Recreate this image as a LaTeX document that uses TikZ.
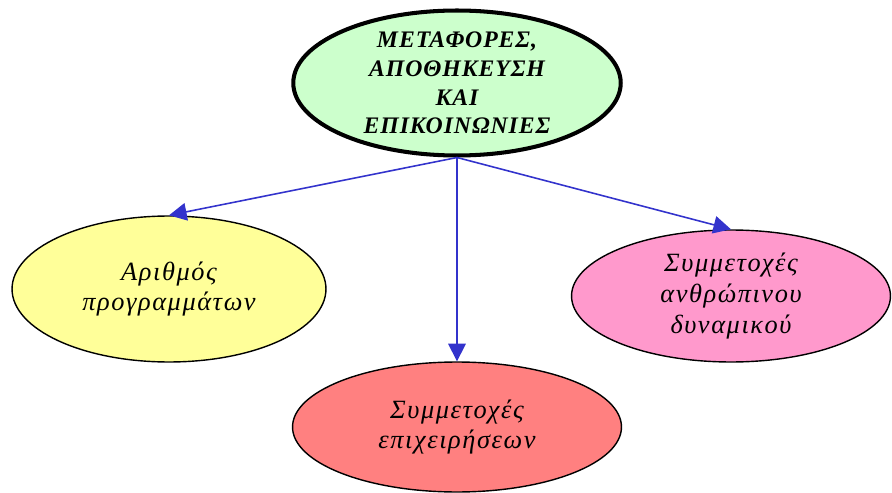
\documentclass[tikz,border=0pt]{standalone}
\usepackage{fontspec}
\setmainfont{Liberation Serif}
\newfontfamily\headfont[LetterSpace=4]{Liberation Serif}
\newfontfamily\leaffont[LetterSpace=6]{Liberation Serif}
\usetikzlibrary{positioning, shapes.geometric, arrows.meta}
\definecolor{mintGreen}{HTML}{CCFFCC}
\definecolor{paleYellow}{HTML}{FFFF99}
\definecolor{rosePink}{HTML}{FF99CC}
\definecolor{salmonRed}{HTML}{FF8080}
\definecolor{linkBlue}{HTML}{3333CC}

\begin{document}
\begin{tikzpicture}[x=0.02cm, y=-0.02cm,
  hub/.style={ellipse, draw=black, line width=2.3pt, fill=mintGreen, inner sep=0pt,
    minimum width=6.55cm, minimum height=2.9cm, align=center,
    font=\headfont\bfseries\itshape\fontsize{13.5}{16.4}\selectfont},
  leaf/.style={ellipse, draw=black, line width=0.8pt, inner sep=0pt, align=center,
    font=\leaffont\itshape\fontsize{15}{17.6}\selectfont},
  link/.style={draw=linkBlue, line width=0.9pt, -{Triangle[length=10pt, width=10pt]}, fill=linkBlue}]

\useasboundingbox (0,0) rectangle (892,493);

\node[hub] (hub) at (457,83)
  {ΜΕΤΑΦΟΡΕΣ,\\ΑΠΟΘΗΚΕΥΣΗ\\ΚΑΙ\\ΕΠΙΚΟΙΝΩΝΙΕΣ};

\node[leaf, fill=paleYellow, minimum width=6.28cm, minimum height=2.92cm] (progs) at (169,289)
  {Αριθμός\\προγραμμάτων};

\node[leaf, fill=rosePink, minimum width=6.38cm, minimum height=2.64cm] (staff) at (731,296)
  {Συμμετοχές\\ανθρώπινου\\δυναμικού};

\node[leaf, fill=salmonRed, minimum width=6.58cm, minimum height=2.6cm] (firms) at (457,427)
  {Συμμετοχές\\επιχειρήσεων};

\draw[link] (hub.south) -- (progs.north);
\draw[link] (hub.south) -- (firms.north);
\draw[link] (hub.south) -- (staff.north);

\end{tikzpicture}
\end{document}
